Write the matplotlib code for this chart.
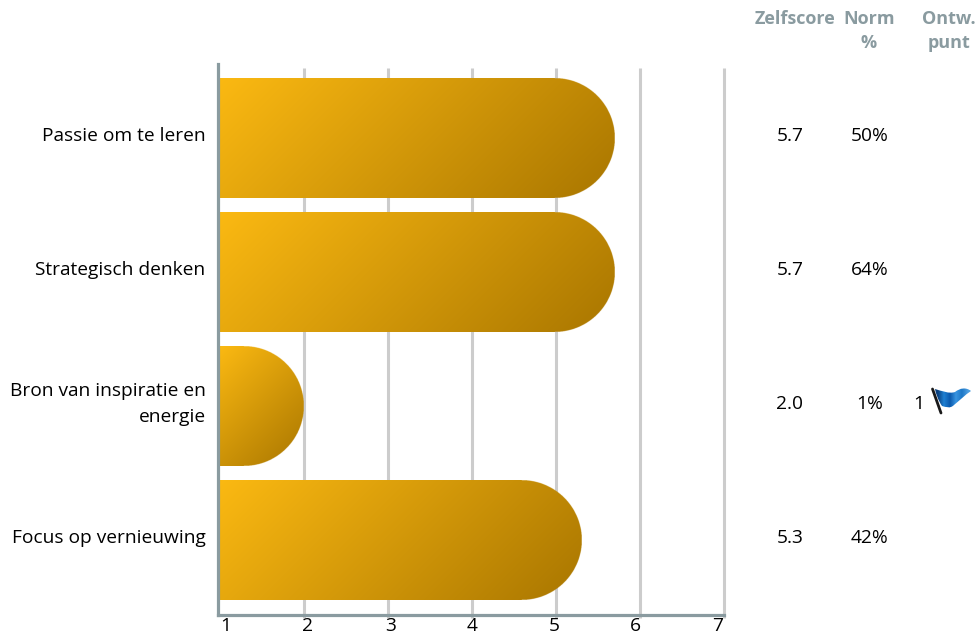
import numpy as np
from matplotlib import pyplot as plt
from matplotlib.patches import PathPatch
from matplotlib.path import Path

categories = ['Passie om te leren', 'Strategisch denken',
              'Bron van inspiratie en\nenergie', 'Focus op vernieuwing']
scores = [5.7, 5.7, 2.0, 5.3]
norms = ['50%', '64%', '1%', '42%']
dev_points = ['', '', '1', '']
x_ticks = [1, 2, 3, 4, 5, 6, 7]

plt.rcParams['font.family'] = ['Open Sans', 'DejaVu Sans']
FS = 13.8

W, H = 980, 638
fig = plt.figure(figsize=(W / 100, H / 100), dpi=100)
# axes box in pixels: left 217.5, right 723.5, top 64, bottom 615
ax = fig.add_axes([217.5 / W, 1 - 615 / H, 506 / W, 551 / H])

COL_START = np.array([0xfb, 0xb9, 0x12]) / 255.
COL_END = np.array([0xa9, 0x76, 0x00]) / 255.
x_unit = 84.
y_unit = 134.
bar_h = 120 / y_unit
rx = 60 / x_unit


def rounded_bar(ax, y, value):
    # bar with a square left side and a half ellipse on the right, 45 degree gradient
    ry = bar_h / 2.
    nx = int((value - 1) * x_unit * 4)
    ny = int(120 * 4)
    xs = np.linspace(1, value, nx)
    ys = np.linspace(y - ry, y + ry, ny)
    xx, yy = np.meshgrid(xs, ys)
    t = ((xx - 1) * x_unit + (yy - y + ry) * y_unit) / ((value - 1) * x_unit + 120.)
    rgba = np.zeros((ny, nx, 4))
    for i in range(3):
        rgba[:, :, i] = COL_START[i] + (COL_END[i] - COL_START[i]) * t
    inside = (xx <= value - rx) | (((xx - value + rx) / rx) ** 2 + ((yy - y) / ry) ** 2 <= 1)
    rgba[:, :, 3] = inside
    ax.imshow(rgba, extent=(1, value, y + ry, y - ry), aspect='auto', zorder=3,
              interpolation='hanning', interpolation_stage='rgba')


ypos = np.arange(len(categories))
for y, s in zip(ypos, scores):
    rounded_bar(ax, y, s)

ax.set_xlim(1 - 2 / x_unit, 7)
ax.set_ylim(3 + 75 / y_unit, -74 / y_unit)

# grid lines stop short of the top and poke through the bottom axis
ax.vlines(x_ticks[1:], -3 / 551., 1 - 4 / 551., transform=ax.get_xaxis_transform(),
          color='#cccccc', lw=2.2, zorder=1, clip_on=False)

for side in ['top', 'right']:
    ax.spines[side].set_visible(False)
for side in ['left', 'bottom']:
    ax.spines[side].set_color('#8a9ba0')
    ax.spines[side].set_linewidth(2.3)
    ax.spines[side].set_zorder(4)

ax.set_xticks(x_ticks)
ax.set_xticklabels([])
ax.tick_params(axis='x', length=0)
label_shift = [6, 4, 3, 1, -1, -4, -6]
for t, dx in zip(x_ticks, label_shift):
    ax.annotate(str(t), (t, 0), xycoords=('data', 'axes fraction'), xytext=(dx, -2),
                textcoords='offset pixels', ha='center', va='top', fontsize=FS,
                color='black')

ax.set_yticks(ypos)
ax.set_yticklabels([])
ax.tick_params(axis='y', length=0)
for y, c in zip(ypos, categories):
    ax.annotate(c, (0, y), xycoords=('axes fraction', 'data'), xytext=(-12, 2),
                textcoords='offset pixels', ha='right', va='center', ma='right',
                fontsize=FS, linespacing=1.6, color='black')

# value columns right of the plot
score_x = 7.79
norm_x = 8.74
for y, s, n, d in zip(ypos, scores, norms, dev_points):
    ax.annotate('%.1f' % s, (score_x, y), xytext=(0, 2), textcoords='offset pixels',
                ha='center', va='center', fontsize=FS, annotation_clip=False)
    ax.annotate(n, (norm_x, y), xytext=(0, 2), textcoords='offset pixels',
                ha='center', va='center', fontsize=FS, annotation_clip=False)
    if d:
        ax.annotate(d, (9.33, y), xytext=(0, 2), textcoords='offset pixels',
                    ha='center', va='center', fontsize=FS, annotation_clip=False)

# overlay in pixel coordinates for the header row and the flag
over = fig.add_axes([0, 0, 1, 1], zorder=5)
over.patch.set_visible(False)
over.axis('off')

head = dict(ha='center', va='center', fontsize=13, fontweight='bold', color='#8a9ba0')
over.text(795, 19, 'Zelfscore', **head)
over.text(869.5, 19, 'Norm', **head)
over.text(869, 43, '%', **head)
over.text(949, 19, 'Ontw.', **head)
over.text(949, 43, 'punt', **head)

# flag
flag = Path([(935, 389), (942, 391), (949, 394), (955, 392),
             (960, 388), (966, 387), (971, 391),
             (965, 395), (960, 400), (954, 405),
             (950, 409), (946, 407), (942, 406),
             (938, 400), (936, 394), (935, 389)],
            [Path.MOVETO] + [Path.CURVE4] * 15)
patch = PathPatch(flag, facecolor='none', edgecolor='none')
over.add_patch(patch)
bands = np.array([[0.03, 0.25, 0.50], [0.12, 0.50, 0.82], [0.04, 0.35, 0.68], [0.22, 0.58, 0.88],
                  [0.12, 0.47, 0.78], [0.30, 0.62, 0.88]])
im = over.imshow(bands[np.newaxis, :, :], extent=(935, 971, 409, 387), aspect='auto',
                 interpolation='bilinear', zorder=2)
im.set_clip_path(patch)
over.plot([932.5, 941], [389, 413], color='#1a1a1a', lw=2, solid_capstyle='round', zorder=3)

over.set_xlim(0, W)
over.set_ylim(H, 0)

fig.savefig('out.png', dpi=100)
